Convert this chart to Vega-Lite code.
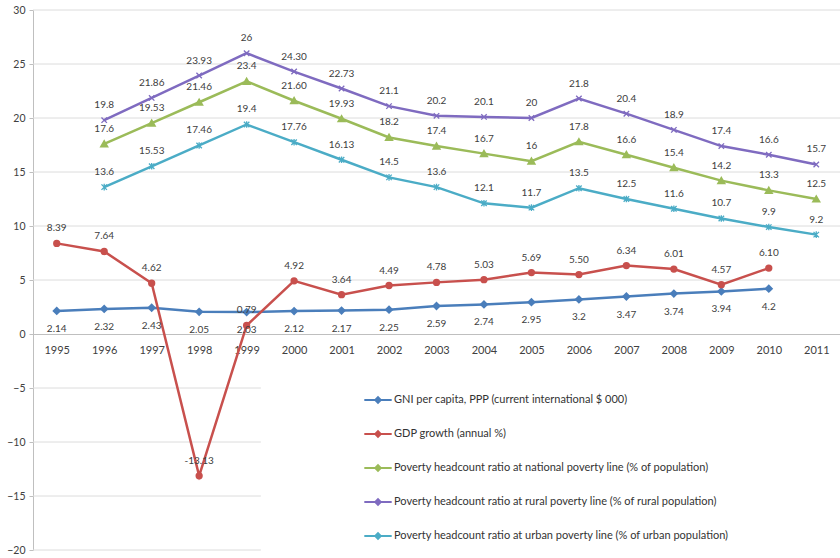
{
  "$schema": "https://vega.github.io/schema/vega-lite/v6.json",
  "width": 807,
  "height": 540,
  "autosize": {"type": "none"},
  "padding": {"left": 33, "top": 10, "right": 0, "bottom": 8},
  "background": "white",
  "config": {
    "view": {"stroke": null},
    "font": "Lato",
    "legend": {
      "orient": "none",
      "legendX": 330,
      "legendY": 375,
      "title": null,
      "symbolType": "M-1,0L1,0M-0.2,0L0,-0.2L0.2,0L0,0.2Z",
      "symbolSize": 750,
      "symbolStrokeWidth": 2,
      "labelFontSize": 11,
      "labelColor": "#333333",
      "labelOffset": 1,
      "labelLimit": 600,
      "rowPadding": 12
    }
  },
  "datasets": {
    "series": [
      {"year": 1995, "series": "GNI", "value": 2.14, "label": "2.14"},
      {"year": 1996, "series": "GNI", "value": 2.32, "label": "2.32"},
      {"year": 1997, "series": "GNI", "value": 2.43, "label": "2.43"},
      {"year": 1998, "series": "GNI", "value": 2.05, "label": "2.05"},
      {"year": 1999, "series": "GNI", "value": 2.03, "label": "2.03"},
      {"year": 2000, "series": "GNI", "value": 2.12, "label": "2.12"},
      {"year": 2001, "series": "GNI", "value": 2.17, "label": "2.17"},
      {"year": 2002, "series": "GNI", "value": 2.25, "label": "2.25"},
      {"year": 2003, "series": "GNI", "value": 2.59, "label": "2.59"},
      {"year": 2004, "series": "GNI", "value": 2.74, "label": "2.74"},
      {"year": 2005, "series": "GNI", "value": 2.95, "label": "2.95"},
      {"year": 2006, "series": "GNI", "value": 3.2, "label": "3.2"},
      {"year": 2007, "series": "GNI", "value": 3.47, "label": "3.47"},
      {"year": 2008, "series": "GNI", "value": 3.74, "label": "3.74"},
      {"year": 2009, "series": "GNI", "value": 3.94, "label": "3.94"},
      {"year": 2010, "series": "GNI", "value": 4.2, "label": "4.2"},
      {"year": 1995, "series": "GDP", "value": 8.39, "label": "8.39"},
      {"year": 1996, "series": "GDP", "value": 7.64, "label": "7.64"},
      {"year": 1997, "series": "GDP", "value": 4.7, "label": "4.62"},
      {"year": 1998, "series": "GDP", "value": -13.13, "label": "-13.13"},
      {"year": 1999, "series": "GDP", "value": 0.79, "label": "0.79"},
      {"year": 2000, "series": "GDP", "value": 4.92, "label": "4.92"},
      {"year": 2001, "series": "GDP", "value": 3.64, "label": "3.64"},
      {"year": 2002, "series": "GDP", "value": 4.49, "label": "4.49"},
      {"year": 2003, "series": "GDP", "value": 4.78, "label": "4.78"},
      {"year": 2004, "series": "GDP", "value": 5.03, "label": "5.03"},
      {"year": 2005, "series": "GDP", "value": 5.69, "label": "5.69"},
      {"year": 2006, "series": "GDP", "value": 5.5, "label": "5.50"},
      {"year": 2007, "series": "GDP", "value": 6.34, "label": "6.34"},
      {"year": 2008, "series": "GDP", "value": 6.01, "label": "6.01"},
      {"year": 2009, "series": "GDP", "value": 4.57, "label": "4.57"},
      {"year": 2010, "series": "GDP", "value": 6.1, "label": "6.10"},
      {"year": 1996, "series": "National", "value": 17.6, "label": "17.6"},
      {"year": 1997, "series": "National", "value": 19.53, "label": "19.53"},
      {"year": 1998, "series": "National", "value": 21.46, "label": "21.46"},
      {"year": 1999, "series": "National", "value": 23.4, "label": "23.4"},
      {"year": 2000, "series": "National", "value": 21.6, "label": "21.60"},
      {"year": 2001, "series": "National", "value": 19.93, "label": "19.93"},
      {"year": 2002, "series": "National", "value": 18.2, "label": "18.2"},
      {"year": 2003, "series": "National", "value": 17.4, "label": "17.4"},
      {"year": 2004, "series": "National", "value": 16.7, "label": "16.7"},
      {"year": 2005, "series": "National", "value": 16, "label": "16"},
      {"year": 2006, "series": "National", "value": 17.8, "label": "17.8"},
      {"year": 2007, "series": "National", "value": 16.6, "label": "16.6"},
      {"year": 2008, "series": "National", "value": 15.4, "label": "15.4"},
      {"year": 2009, "series": "National", "value": 14.2, "label": "14.2"},
      {"year": 2010, "series": "National", "value": 13.3, "label": "13.3"},
      {"year": 2011, "series": "National", "value": 12.5, "label": "12.5"},
      {"year": 1996, "series": "Rural", "value": 19.8, "label": "19.8"},
      {"year": 1997, "series": "Rural", "value": 21.86, "label": "21.86"},
      {"year": 1998, "series": "Rural", "value": 23.93, "label": "23.93"},
      {"year": 1999, "series": "Rural", "value": 26, "label": "26"},
      {"year": 2000, "series": "Rural", "value": 24.3, "label": "24.30"},
      {"year": 2001, "series": "Rural", "value": 22.73, "label": "22.73"},
      {"year": 2002, "series": "Rural", "value": 21.1, "label": "21.1"},
      {"year": 2003, "series": "Rural", "value": 20.2, "label": "20.2"},
      {"year": 2004, "series": "Rural", "value": 20.1, "label": "20.1"},
      {"year": 2005, "series": "Rural", "value": 20, "label": "20"},
      {"year": 2006, "series": "Rural", "value": 21.8, "label": "21.8"},
      {"year": 2007, "series": "Rural", "value": 20.4, "label": "20.4"},
      {"year": 2008, "series": "Rural", "value": 18.9, "label": "18.9"},
      {"year": 2009, "series": "Rural", "value": 17.4, "label": "17.4"},
      {"year": 2010, "series": "Rural", "value": 16.6, "label": "16.6"},
      {"year": 2011, "series": "Rural", "value": 15.7, "label": "15.7"},
      {"year": 1996, "series": "Urban", "value": 13.6, "label": "13.6"},
      {"year": 1997, "series": "Urban", "value": 15.53, "label": "15.53"},
      {"year": 1998, "series": "Urban", "value": 17.46, "label": "17.46"},
      {"year": 1999, "series": "Urban", "value": 19.4, "label": "19.4"},
      {"year": 2000, "series": "Urban", "value": 17.76, "label": "17.76"},
      {"year": 2001, "series": "Urban", "value": 16.13, "label": "16.13"},
      {"year": 2002, "series": "Urban", "value": 14.5, "label": "14.5"},
      {"year": 2003, "series": "Urban", "value": 13.6, "label": "13.6"},
      {"year": 2004, "series": "Urban", "value": 12.1, "label": "12.1"},
      {"year": 2005, "series": "Urban", "value": 11.7, "label": "11.7"},
      {"year": 2006, "series": "Urban", "value": 13.5, "label": "13.5"},
      {"year": 2007, "series": "Urban", "value": 12.5, "label": "12.5"},
      {"year": 2008, "series": "Urban", "value": 11.6, "label": "11.6"},
      {"year": 2009, "series": "Urban", "value": 10.7, "label": "10.7"},
      {"year": 2010, "series": "Urban", "value": 9.9, "label": "9.9"},
      {"year": 2011, "series": "Urban", "value": 9.2, "label": "9.2"}
    ],
    "gridFull": [{"g": 5}, {"g": 10}, {"g": 15}, {"g": 20}, {"g": 25}, {"g": 30}],
    "gridLow": [{"g": -5}, {"g": -10}, {"g": -15}, {"g": -20}]
  },
  "layer": [
    {
      "data": {"name": "gridFull"},
      "mark": {"type": "rule", "color": "#dcdcdc", "strokeWidth": 1},
      "encoding": {
        "y": {
          "field": "g", "type": "quantitative",
          "scale": {"domain": [-20, 30], "nice": false},
          "axis": {
            "values": [-20, -15, -10, -5, 0, 5, 10, 15, 20, 25, 30],
            "title": null, "grid": false, "domainColor": "#bfbfbf",
            "tickColor": "#bfbfbf", "tickSize": 4, "labelPadding": 4,
            "labelFontSize": 10.5, "labelColor": "#404040"
          }
        }
      }
    },
    {
      "data": {"name": "gridLow"},
      "mark": {"type": "rule", "color": "#dcdcdc", "strokeWidth": 1},
      "encoding": {
        "y": {"field": "g", "type": "quantitative"},
        "x": {"datum": 1994.5, "type": "quantitative"},
        "x2": {"datum": 1999.3}
      }
    },
    {
      "data": {"name": "series"},
      "mark": {"type": "line", "strokeWidth": 2.5},
      "encoding": {
        "x": {
          "field": "year", "type": "quantitative",
          "scale": {"domain": [1994.5, 2011.5], "nice": false, "zero": false},
          "axis": {
            "values": [1995, 1996, 1997, 1998, 1999, 2000, 2001, 2002, 2003, 2004, 2005, 2006, 2007, 2008, 2009, 2010, 2011],
            "format": "d", "title": null, "grid": false, "ticks": false,
            "offset": -216, "domainColor": "#bfbfbf", "domainWidth": 1,
            "labelPadding": 10, "labelFontSize": 11, "labelColor": "#404040",
            "labelFlush": false
          }
        },
        "y": {"field": "value", "type": "quantitative"},
        "color": {
          "field": "series", "type": "nominal",
          "scale": {
            "domain": ["GNI", "GDP", "National", "Rural", "Urban"],
            "range": ["#4a7ebb", "#c8504d", "#9bbb59", "#7f6bc0", "#4bacc6"]
          },
          "legend": {
            "labelExpr": "{'GNI': 'GNI per capita, PPP (current international $ 000)', 'GDP': 'GDP growth (annual %)', 'National': 'Poverty headcount ratio at national poverty line (% of population)', 'Rural': 'Poverty headcount ratio at rural poverty line (% of rural population)', 'Urban': 'Poverty headcount ratio at urban poverty line (% of urban population)'}[datum.label]"
          }
        }
      }
    },
    {
      "data": {"name": "series"},
      "transform": [{"filter": "datum.series === 'GNI'"}],
      "mark": {"type": "point", "shape": "diamond", "filled": true, "size": 36, "fill": "#4a7ebb", "stroke": "#4a7ebb", "opacity": 1},
      "encoding": {
        "x": {"field": "year", "type": "quantitative"},
        "y": {"field": "value", "type": "quantitative"}
      }
    },
    {
      "data": {"name": "series"},
      "transform": [{"filter": "datum.series === 'GDP'"}],
      "mark": {"type": "point", "shape": "circle", "filled": true, "size": 28, "fill": "#c8504d", "stroke": "#c8504d", "opacity": 1},
      "encoding": {
        "x": {"field": "year", "type": "quantitative"},
        "y": {"field": "value", "type": "quantitative"}
      }
    },
    {
      "data": {"name": "series"},
      "transform": [{"filter": "datum.series === 'National'"}],
      "mark": {"type": "point", "shape": "triangle-up", "filled": true, "size": 36, "fill": "#9bbb59", "stroke": "#9bbb59", "opacity": 1},
      "encoding": {
        "x": {"field": "year", "type": "quantitative"},
        "y": {"field": "value", "type": "quantitative"}
      }
    },
    {
      "data": {"name": "series"},
      "transform": [{"filter": "datum.series === 'Rural'"}],
      "mark": {"type": "point", "shape": "M-1,-1L1,1M-1,1L1,-1", "filled": false, "size": 30, "stroke": "#7f6bc0", "strokeWidth": 1.3, "opacity": 1},
      "encoding": {
        "x": {"field": "year", "type": "quantitative"},
        "y": {"field": "value", "type": "quantitative"}
      }
    },
    {
      "data": {"name": "series"},
      "transform": [{"filter": "datum.series === 'Urban'"}],
      "mark": {"type": "point", "shape": "M-1,-1L1,1M-1,1L1,-1M0,-1.2L0,1.2", "filled": false, "size": 30, "stroke": "#4bacc6", "strokeWidth": 1.3, "opacity": 1},
      "encoding": {
        "x": {"field": "year", "type": "quantitative"},
        "y": {"field": "value", "type": "quantitative"}
      }
    },
    {
      "data": {"name": "series"},
      "transform": [{"filter": "datum.series !== 'GNI'"}],
      "mark": {"type": "text", "dy": -15, "fontSize": 10, "color": "#404040"},
      "encoding": {
        "x": {"field": "year", "type": "quantitative"},
        "y": {"field": "value", "type": "quantitative"},
        "text": {"field": "label"}
      }
    },
    {
      "data": {"name": "series"},
      "transform": [{"filter": "datum.series === 'GNI'"}],
      "mark": {"type": "text", "dy": 18, "fontSize": 10, "color": "#404040"},
      "encoding": {
        "x": {"field": "year", "type": "quantitative"},
        "y": {"field": "value", "type": "quantitative"},
        "text": {"field": "label"}
      }
    }
  ]
}
